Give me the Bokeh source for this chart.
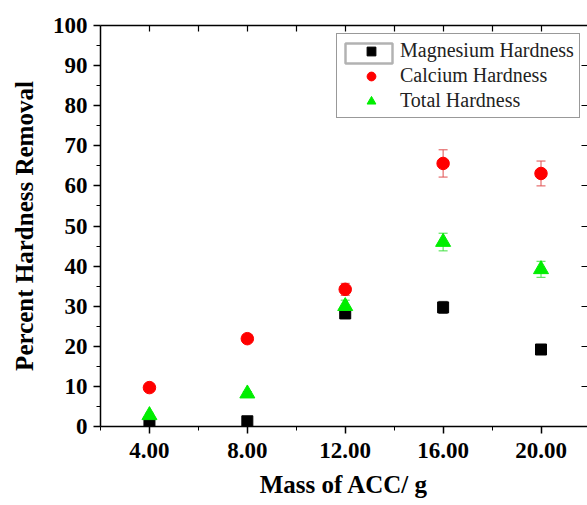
from bokeh.plotting import figure
from bokeh.models import (ColumnDataSource, Whisker, FixedTicker, LinearAxis, Legend, LegendItem,
                          NumeralTickFormatter, BoxAnnotation, Range1d)
from bokeh.embed import file_html
from bokeh.resources import INLINE

mass = [4.0, 8.0, 12.0, 16.0, 20.0]
mg = [1.0, 1.3, 28.2, 29.7, 19.2]
mg_err = [0.3, 0.3, 1.3, 1.5, 0.5]
ca = [9.7, 21.9, 34.2, 65.6, 63.1]
ca_err = [0.4, 0.5, 1.5, 3.4, 3.1]
tot = [2.8, 8.2, 30.0, 46.0, 39.2]
tot_err = [0.5, 0.5, 1.5, 2.2, 2.0]
x_ticks = [4, 8, 12, 16, 20]
x_minor = [2, 6, 10, 14, 18]
y_ticks = [0, 10, 20, 30, 40, 50, 60, 70, 80, 90, 100]
y_minor = [5, 15, 25, 35, 45, 55, 65, 75, 85, 95]
x_title = "Mass of ACC/ g"
y_title = "Percent Hardness Removal"

FONT = "Liberation Serif, Tinos, Times New Roman, DejaVu Serif, serif"
X_END = 21.9

p = figure(width=587, height=505, output_backend="svg", toolbar_location=None,
           x_range=Range1d(2, X_END), y_range=Range1d(0, 100),
           min_border_left=100, min_border_right=0, min_border_top=25, min_border_bottom=79)
p.grid.visible = False
p.outline_line_color = None
p.background_fill_color = "white"
p.border_fill_color = "white"

def mk(src_y, err):
    lo = [v - e for v, e in zip(src_y, err)]
    hi = [v + e for v, e in zip(src_y, err)]
    return ColumnDataSource(dict(x=mass, y=src_y, lo=lo, hi=hi))

s_mg = mk(mg, mg_err)
s_ca = mk(ca, ca_err)
s_tot = mk(tot, tot_err)

for s, c in [(s_mg, "#555555"), (s_ca, "#e05050"), (s_tot, "#40e040")]:
    w = Whisker(source=s, base="x", lower="lo", upper="hi", line_color=c, line_width=1)
    w.upper_head.size = 9
    w.lower_head.size = 9
    w.upper_head.line_color = c
    w.lower_head.line_color = c
    p.add_layout(w)

r_mg = p.scatter("x", "y", source=s_mg, marker="square", size=11, color="black")
r_ca = p.scatter("x", "y", source=s_ca, marker="circle", size=12.5, color="#ff0000")
r_tot = p.scatter("x", "y", source=s_tot, marker="triangle", size=15, color="#00ee00")

xa = p.xaxis[0]
xa.ticker = FixedTicker(ticks=x_ticks, minor_ticks=x_minor)
xa.formatter = NumeralTickFormatter(format="0.00")
xa.axis_label = x_title
ya = p.yaxis[0]
ya.ticker = FixedTicker(ticks=y_ticks, minor_ticks=y_minor)
ya.axis_label = y_title
for ax in [xa, ya]:
    ax.axis_label_text_font = FONT
    ax.axis_label_text_font_style = "bold"
    ax.axis_label_text_font_size = "25px"
    ax.major_label_text_font = FONT
    ax.major_label_text_font_style = "bold"
    ax.major_label_text_font_size = "23px"
    ax.major_label_text_color = "black"
    ax.axis_label_text_color = "black"
    ax.axis_line_width = 1.5
    ax.major_tick_line_width = 1.5
    ax.major_tick_out = 7
    ax.major_tick_in = 0
    ax.minor_tick_out = 4
    ax.minor_tick_in = 0
xa.major_label_standoff = 9
xa.axis_label_standoff = 10
ya.axis_label_standoff = 12
ya.major_label_standoff = 6

top = LinearAxis(ticker=FixedTicker(ticks=[], minor_ticks=[4, 6, 8, 10, 12, 14, 16, 18, 20]),
                 minor_tick_in=6, minor_tick_out=0, axis_line_width=1.5, minor_tick_line_width=1.2)
p.add_layout(top, "above")
right = LinearAxis(ticker=FixedTicker(ticks=[], minor_ticks=[10, 20, 30, 40, 50, 60, 70, 80, 90]),
                   minor_tick_in=6, minor_tick_out=0, axis_line_color=None, minor_tick_line_width=1.2)
p.add_layout(right, "right")

legend = Legend(items=[LegendItem(label="Magnesium Hardness", renderers=[r_mg]),
                       LegendItem(label="Calcium Hardness", renderers=[r_ca]),
                       LegendItem(label="Total Hardness", renderers=[r_tot])],
                location=(236, 308))
legend.label_text_font = FONT
legend.label_text_font_size = "20px"
legend.label_text_color = "#222222"
legend.border_line_color = "#333333"
legend.border_line_width = 1
legend.padding = 5
legend.spacing = 2
legend.label_height = 22
legend.glyph_height = 22
legend.glyph_width = 58
legend.label_standoff = 0
legend.margin = 0
legend.background_fill_alpha = 0
p.add_layout(legend, "center")

# highlight box around the first legend glyph (frame-relative screen units)
box = BoxAnnotation(left=245, right=292, top=426 - 43, bottom=426 - 63, left_units="screen",
                    right_units="screen", top_units="screen", bottom_units="screen",
                    fill_alpha=0, line_color="black", line_width=2.5, level="overlay")
p.add_layout(box)

open("out.html", "w").write(file_html(p, INLINE))
